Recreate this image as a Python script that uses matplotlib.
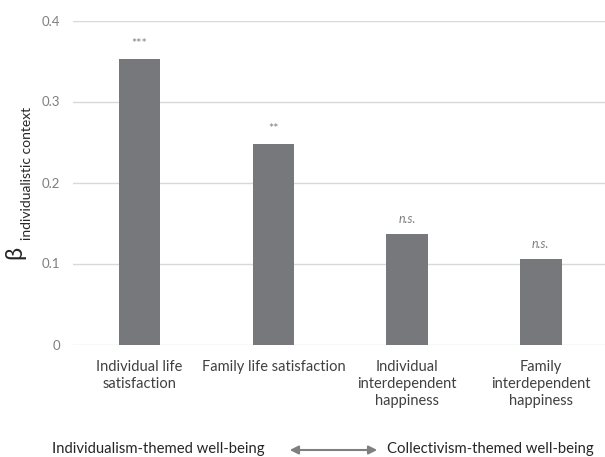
import matplotlib
matplotlib.use("Agg")
import matplotlib.pyplot as plt
import numpy as np

categories = ["Individual life\nsatisfaction", "Family life satisfaction",
              "Individual\ninterdependent\nhappiness", "Family\ninterdependent\nhappiness"]
betas = [0.353, 0.248, 0.136, 0.106]
stars = ["***", "**", "n.s.", "n.s."]
yticks = [0, 0.1, 0.2, 0.3, 0.4]
ytick_labels = ["0", "0.1", "0.2", "0.3", "0.4"]

plt.rcParams["font.family"] = ["Lato", "DejaVu Sans"]

W, H = 605, 457
fig = plt.figure(figsize=(W / 100, H / 100), dpi=100)
ax = fig.add_axes([72.7 / W, 1 - 344.5 / H, (W - 72.7) / W, (344.5 - 20.5) / H])

x = np.arange(len(betas))
ax.bar(x, betas, width=0.31, color="#77787b", zorder=3)
for xi, b, s in zip(x, betas, stars):
    italic = "italic" if s == "n.s." else "normal"
    ax.text(xi, b + 0.011, s, ha="center", va="bottom", fontsize=9,
            color="#7f7f7f", style=italic)

ax.set_xlim(-0.5, 3.48)
ax.set_ylim(0, 0.4)
ax.set_yticks(yticks)
ax.set_yticklabels(ytick_labels, color="#7f7f7f", fontsize=9.5)
ax.set_xticks(x)
ax.set_xticklabels(categories, fontsize=10.5, color="#404040", linespacing=1.3)
ax.tick_params(length=0, axis="y", pad=9)
ax.tick_params(length=0, axis="x", pad=11)
ax.grid(axis="y", color="#d9d9d9", lw=1, zorder=0)
ax.set_axisbelow(True)
for sp in ax.spines.values():
    sp.set_visible(False)

# y label: beta with subscript
fig.text(15 / W, 1 - 252 / H, "β", rotation=90, ha="center", va="center",
         fontsize=17, color="#262626")
fig.text(27 / W, 1 - 240 / H, "individualistic context", rotation=90,
         ha="center", va="bottom", fontsize=10, color="#262626")

# bottom axis description
fig.text(52 / W, 1 - 453 / H, "Individualism-themed well-being", ha="left",
         va="baseline", fontsize=10.7, color="#262626")
fig.text(387 / W, 1 - 453 / H, "Collectivism-themed well-being", ha="left",
         va="baseline", fontsize=10.7, color="#262626")
fig.add_artist(matplotlib.patches.FancyArrowPatch(
    (287 / W, 1 - 450 / H), (380 / W, 1 - 450 / H), transform=fig.transFigure,
    arrowstyle="<|-|>,head_length=5,head_width=2.5", color="#7f7f7f", lw=1.5))

fig.savefig("out.png", dpi=100)
